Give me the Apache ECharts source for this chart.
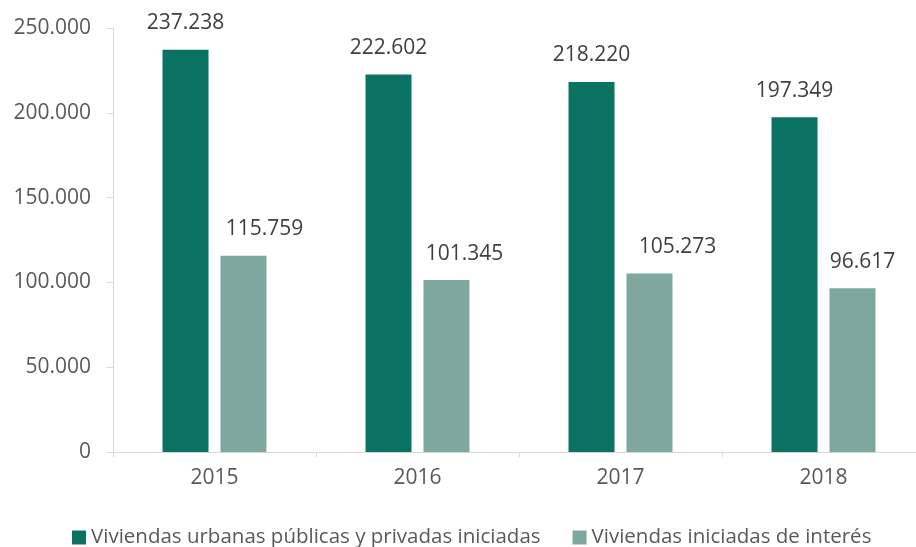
<!DOCTYPE html>
<html>
<head>
<meta charset="utf-8">
<script src="https://cdn.jsdelivr.net/npm/echarts@6/dist/echarts.min.js"></script>
<style>
  html, body { margin: 0; padding: 0; background: #ffffff; }
  #chart { width: 916px; height: 547px; }
</style>
</head>
<body>
<div id="chart"></div>
<script>
// Años y viviendas iniciadas
const years = ['2015', '2016', '2017', '2018'];
const viviendasUrbanas = [237238, 222602, 218220, 197349];
const viviendasInteres = [115759, 101345, 105273, 96617];
const yTicks = [0, 50000, 100000, 150000, 200000, 250000];

const seriesNames = [
  'Viviendas urbanas públicas y privadas iniciadas',
  'Viviendas iniciadas de interés'
];

// horizontal nudge of the value labels on the lighter bars
const interesLabelShift = [21, 18, 28, 10];

const FONT = '"Open Sans", sans-serif';
const fmt = v => v.toLocaleString('de-DE');

const chart = echarts.init(document.getElementById('chart'), null, { renderer: 'canvas' });

const labelBase = {
  show: true,
  position: 'top',
  distance: 16,
  fontFamily: FONT,
  fontSize: 21,
  color: '#404040',
  formatter: p => fmt(p.value)
};

chart.setOption({
  animation: false,
  backgroundColor: '#ffffff',
  grid: {
    left: 113, top: 28, width: 812, height: 424,
    containLabel: false,
    outerBoundsMode: 'none'
  },
  legend: {
    left: 67,
    top: 522,
    itemWidth: 14,
    itemHeight: 14,
    itemGap: 32,
    icon: 'rect',
    textStyle: { fontFamily: FONT, fontSize: 20.5, color: '#595959', padding: [0, 0, 0, 0] },
    data: seriesNames
  },
  xAxis: {
    type: 'category',
    data: years,
    axisLine: { show: true, lineStyle: { color: '#d9d9d9', width: 1 } },
    axisTick: { show: true, alignWithLabel: false, length: 5, lineStyle: { color: '#d9d9d9' } },
    axisLabel: { margin: 16, fontFamily: FONT, fontSize: 21, color: '#595959' }
  },
  yAxis: {
    type: 'value',
    min: yTicks[0],
    max: yTicks[yTicks.length - 1],
    interval: yTicks[1] - yTicks[0],
    axisLine: { show: true, lineStyle: { color: '#d9d9d9', width: 1 } },
    axisTick: { show: true, length: 6, lineStyle: { color: '#d9d9d9' } },
    splitLine: { show: false },
    axisLabel: {
      margin: 22,
      fontFamily: FONT,
      fontSize: 21,
      color: '#595959',
      formatter: v => fmt(v)
    }
  },
  series: [
    {
      name: seriesNames[0],
      type: 'bar',
      data: viviendasUrbanas,
      barWidth: 46,
      barGap: '26%',
      itemStyle: { color: '#0a7262' },
      label: labelBase
    },
    {
      name: seriesNames[1],
      type: 'bar',
      data: viviendasInteres.map((v, i) => ({
        value: v,
        label: { offset: [interesLabelShift[i], 0] }
      })),
      barWidth: 46,
      itemStyle: { color: '#7ea89f' },
      label: labelBase
    }
  ]
});
</script>
</body>
</html>
